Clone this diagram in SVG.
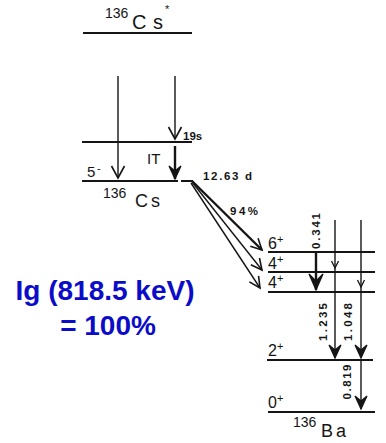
<svg xmlns="http://www.w3.org/2000/svg" width="386" height="443" viewBox="0 0 386 443">
<style>
.lv{stroke:#151515;stroke-width:2;fill:none}
.ar{stroke:#151515;stroke-width:1.4;fill:none}
.th{stroke:#151515;stroke-width:2.4;fill:none}
.t{font-family:"Liberation Sans",Arial,Helvetica,sans-serif;fill:#151515}
.sm{font-size:11.5px;font-weight:bold}
.lb{font-size:16px}
.sup{font-size:11px}
.iso{font-size:20px}
.num{font-size:14px}
.blue{font-family:"Liberation Sans",Arial,Helvetica,sans-serif;font-weight:bold;font-size:28px;fill:#0c0cc8;text-anchor:middle}
</style>
<defs>
<marker id="ov" markerUnits="userSpaceOnUse" orient="auto" refX="0" refY="0" overflow="visible">
<path d="M-12,-6.5 L0,0 L-12,6.5" fill="none" stroke="#151515" stroke-width="1.6"/>
</marker>
<marker id="dv" markerUnits="userSpaceOnUse" orient="auto" refX="0" refY="0" overflow="visible">
<path d="M-11,-5.5 L0,0 L-11,5.5" fill="none" stroke="#151515" stroke-width="1.6"/>
</marker>
<marker id="fv" markerUnits="userSpaceOnUse" orient="auto" refX="0" refY="0" overflow="visible">
<path d="M-13,-6 L0,0 L-13,6 L-8,0 Z" fill="#151515" stroke="#151515" stroke-width="1.2"/>
</marker>
<marker id="bv" markerUnits="userSpaceOnUse" orient="auto" refX="0" refY="0" overflow="visible">
<path d="M-16,-7 L0,0 L-16,7 L-9,0 Z" fill="#151515" stroke="#151515" stroke-width="1.2"/>
</marker>
<marker id="sv" markerUnits="userSpaceOnUse" orient="auto" refX="0" refY="0" overflow="visible">
<path d="M-7,-3.5 L0,0 L-7,3.5" fill="none" stroke="#151515" stroke-width="1.3"/>
</marker>
</defs>

<g id="level-cs136m">
<path class="lv" d="M83,33 H192"/>
<text class="t"><tspan x="105" y="18" class="num">136</tspan><tspan x="132" y="29" class="iso">C</tspan><tspan x="153" y="29" class="iso">s</tspan><tspan x="165" y="13" class="sup">*</tspan></text>
</g>

<g id="level-19s">
<path class="lv" d="M82,142 H192"/>
<text class="t sm" x="183" y="140">19s</text>
</g>

<g id="level-cs136">
<path class="lv" d="M82,181 H178 M181,181 H193"/>
<text class="t" x="87" y="177" style="font-size:15px">5</text>
<text class="t sup" x="97" y="172">-</text>
<text class="t"><tspan x="103" y="198" class="num">136</tspan><tspan x="135" y="207" class="iso" style="font-size:18px">C</tspan><tspan x="151" y="207" class="iso" style="font-size:18px">s</tspan></text>
<text class="t sm" x="203" y="180" textLength="49" lengthAdjust="spacing">12.63 d</text>
<text class="t sm" x="230" y="215" textLength="28" lengthAdjust="spacing">94%</text>
</g>

<g id="level-6p">
<path class="lv" d="M268,252 H375"/>
<text class="t lb" x="268" y="249">6<tspan class="sup" dy="-6">+</tspan></text>
</g>
<g id="level-4p-a">
<path class="lv" d="M268,272 H375"/>
<text class="t lb" x="268" y="269">4<tspan class="sup" dy="-6">+</tspan></text>
</g>
<g id="level-4p-b">
<path class="lv" d="M268,292 H375"/>
<text class="t lb" x="268" y="288">4<tspan class="sup" dy="-6">+</tspan></text>
</g>
<g id="level-2p">
<path class="lv" d="M267,360 H373"/>
<text class="t lb" x="268" y="356">2<tspan class="sup" dy="-6">+</tspan></text>
</g>
<g id="level-0p">
<path class="lv" d="M268,412 H375"/>
<text class="t lb" x="268" y="408">0<tspan class="sup" dy="-6">+</tspan></text>
<text class="t"><tspan x="293" y="427" class="num">136</tspan><tspan x="321" y="437" class="iso" style="font-size:18px">B</tspan><tspan x="336" y="437" class="iso" style="font-size:18px">a</tspan></text>
</g>

<g id="connectors">
<path class="ar" d="M118,76 V178" marker-end="url(#ov)"/>
<path class="ar" d="M175,76 V139" marker-end="url(#ov)"/>
<path class="th" d="M175,146 V179" marker-end="url(#fv)"/>
<text class="t" x="147" y="164" style="font-size:15px">IT</text>
<path class="th" d="M192,181 L262,250" marker-end="url(#dv)"/>
<path class="ar" d="M192,182 L262,270" marker-end="url(#dv)"/>
<path class="ar" d="M191,183 L260,288" marker-end="url(#dv)"/>
<path class="th" d="M316,252 V290" marker-end="url(#bv)"/>
<path class="ar" d="M335,220 V268" marker-end="url(#sv)"/>
<path class="ar" d="M335,268 V358" marker-end="url(#fv)"/>
<path class="ar" d="M361,220 V287" marker-end="url(#sv)"/>
<path class="ar" d="M361,287 V358" marker-end="url(#fv)"/>
<path class="ar" d="M361,361 V409" marker-end="url(#fv)"/>
<text class="t sm" transform="translate(320,231) rotate(-90)" text-anchor="middle" textLength="36" lengthAdjust="spacing">0.341</text>
<text class="t sm" transform="translate(327,322) rotate(-90)" text-anchor="middle" textLength="38" lengthAdjust="spacing">1.235</text>
<text class="t sm" transform="translate(352,322) rotate(-90)" text-anchor="middle" textLength="38" lengthAdjust="spacing">1.048</text>
<text class="t sm" transform="translate(351,382) rotate(-90)" text-anchor="middle" textLength="35" lengthAdjust="spacing">0.819</text>
</g>

<g id="note">
<text class="blue" x="105" y="300">Ig (818.5 keV)</text>
<text class="blue" x="108" y="335">= 100%</text>
</g>
</svg>
